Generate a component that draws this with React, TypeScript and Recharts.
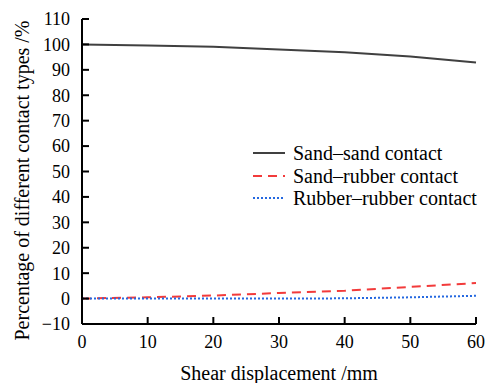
import { Legend, Line, LineChart, XAxis, YAxis } from 'recharts';

// shear displacement (mm)
const displacement = [0, 10, 20, 30, 40, 50, 60];
// percentage of each contact type (%)
const sandSand = [100, 99.6, 99.1, 98.0, 96.9, 95.2, 92.9];
const sandRubber = [0, 0.5, 1.2, 2.2, 3.1, 4.6, 6.1];
const rubberRubber = [0, 0, 0, 0, 0.1, 0.5, 1.1];

const seriesKeys = ['sandSand', 'sandRubber', 'rubberRubber'];
const seriesNames = ['Sand–sand contact', 'Sand–rubber contact', 'Rubber–rubber contact'];
const seriesColors = ['#404040', '#f23b3b', '#2468e0'];
const seriesDash = ['', '9 6', '2 2'];

const xTicks = [0, 10, 20, 30, 40, 50, 60];
const yTicks = [-10, 0, 10, 20, 30, 40, 50, 60, 70, 80, 90, 100, 110];

const rows = displacement.map((d, i) => ({
  d,
  sandSand: sandSand[i],
  sandRubber: sandRubber[i],
  rubberRubber: rubberRubber[i],
}));

const font = 'Liberation Serif';
const tickStyle = { fill: '#000', fontSize: 18, fontFamily: font };
// typographic minus for negative ticks
const fmt = (v: number) => String(v).replace('-', '\u2212');

function LegendBox() {
  return (
    <div style={{ fontFamily: font, fontSize: 20, lineHeight: '22.5px', color: '#000' }}>
      {seriesNames.map((name, i) => (
        <div key={name} style={{ display: 'flex', alignItems: 'center', whiteSpace: 'nowrap' }}>
          <svg width={33} height={10} style={{ marginRight: 7 }}>
            <line x1={0} y1={5} x2={32} y2={5} stroke={seriesColors[i]} strokeWidth={2} strokeDasharray={seriesDash[i] || undefined} />
          </svg>
          <span>{name}</span>
        </div>
      ))}
    </div>
  );
}

function YTitle({ viewBox }: any) {
  const cy = viewBox.y + viewBox.height / 2 + 9;
  return (
    <text
      x={22}
      y={cy}
      transform={`rotate(-90 22 ${cy})`}
      textAnchor="middle"
      dominantBaseline="central"
      fill="#000"
      fontSize={20}
      fontFamily={font}
    >
      Percentage of different contact types /%
    </text>
  );
}

export default function App() {
  return (
    <div style={{ position: 'absolute', left: 0, top: 0, background: '#fff', fontFamily: font }}>
      <LineChart
        width={488}
        height={383}
        data={rows}
        margin={{ top: 19, right: 12, bottom: 0, left: 0 }}
        style={{ fontFamily: font }}
      >
        <XAxis
          dataKey="d"
          type="number"
          domain={[0, 60]}
          ticks={xTicks}
          interval={0}
          height={59}
          stroke="#000"
          strokeWidth={2}
          tickSize={-7}
          tickMargin={18}
          tick={tickStyle}
          label={{ value: 'Shear displacement /mm', position: 'insideBottom', offset: 3, fill: '#000', fontSize: 20, fontFamily: font }}
        />
        <YAxis
          type="number"
          domain={[-10, 110]}
          ticks={yTicks}
          interval={0}
          width={82}
          stroke="#000"
          strokeWidth={2}
          tickSize={-7}
          tickMargin={19}
          tick={tickStyle}
          tickFormatter={fmt}
          label={{ content: YTitle }}
        />
        <Legend
          layout="vertical"
          verticalAlign="middle"
          align="center"
          content={() => <LegendBox />}
          wrapperStyle={{ left: 253, top: 142, width: 235 }}
        />
        {seriesKeys.map((key, i) => (
          <Line
            key={key}
            dataKey={key}
            name={seriesNames[i]}
            stroke={seriesColors[i]}
            strokeWidth={2}
            strokeDasharray={seriesDash[i] || undefined}
            dot={false}
            isAnimationActive={false}
          />
        ))}
      </LineChart>
    </div>
  );
}
